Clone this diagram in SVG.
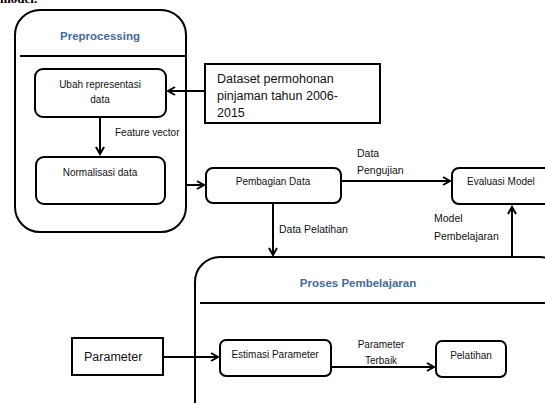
<svg xmlns="http://www.w3.org/2000/svg" width="545" height="403" viewBox="0 0 545 403">
<style>
  .box{fill:#fff;stroke:#000;stroke-width:2}
  .cont{fill:#fff;stroke:#000;stroke-width:2}
  .sep{stroke:#000;stroke-width:2}
  .t{font-family:"Liberation Sans",Arial,sans-serif;font-size:10px;fill:#111}
  .tl{font-family:"Liberation Sans",Arial,sans-serif;font-size:12.5px;fill:#111}
  .tm{font-family:"Liberation Sans",Arial,sans-serif;font-size:10.5px;fill:#111}
  .title{font-family:"Liberation Sans",Arial,sans-serif;font-size:11.5px;font-weight:bold;fill:#44699c}
  .c{stroke:#000;stroke-width:2;fill:none;marker-end:url(#ah)}
</style>
<defs>
  <marker id="ah" markerWidth="10" markerHeight="10" refX="8" refY="5" orient="auto" markerUnits="userSpaceOnUse">
    <path d="M1,1 L8,5 L1,9" fill="none" stroke="#000" stroke-width="2"/>
  </marker>
</defs>
<rect width="545" height="403" fill="#fff"/>
<text x="0" y="3" style="font-family:'Liberation Serif',serif;font-size:13px;font-weight:bold" fill="#000">model.</text>

<g id="preprocessing">
  <rect class="cont" x="15" y="10" width="171" height="222" rx="25"/>
  <line class="sep" x1="20" y1="56" x2="186" y2="56"/>
  <text class="title" x="100" y="40" text-anchor="middle">Preprocessing</text>
</g>
<g id="ubah">
  <rect class="box" x="35" y="69" width="131" height="48" rx="8"/>
  <text class="t" x="100" y="88" text-anchor="middle">Ubah representasi</text>
  <text class="t" x="100" y="103" text-anchor="middle">data</text>
</g>
<g id="normalisasi">
  <rect class="box" x="36" y="157" width="129" height="47" rx="8"/>
  <text class="t" x="100" y="176" text-anchor="middle">Normalisasi data</text>
</g>
<g id="dataset">
  <rect class="box" x="205" y="64" width="175" height="59"/>
  <text class="tl" x="217" y="83">Dataset permohonan</text>
  <text class="tl" x="217" y="100">pinjaman tahun 2006-</text>
  <text class="tl" x="217" y="117">2015</text>
</g>
<g id="pembagian">
  <rect class="box" x="206" y="168" width="135" height="35" rx="7"/>
  <text class="t" x="273" y="185" text-anchor="middle">Pembagian Data</text>
</g>
<g id="evaluasi">
  <rect class="box" x="452" y="168" width="100" height="36" rx="7"/>
  <text class="t" x="467" y="185">Evaluasi Model</text>
</g>
<g id="proses">
  <rect class="cont" x="195" y="257" width="370" height="170" rx="25"/>
  <line class="sep" x1="200" y1="303" x2="545" y2="303"/>
  <text class="title" x="358" y="287" text-anchor="middle">Proses Pembelajaran</text>
</g>
<g id="parameter">
  <rect class="box" x="72" y="338" width="91" height="37"/>
  <text class="tl" x="84" y="361">Parameter</text>
</g>
<g id="estimasi">
  <rect class="box" x="220" y="340" width="111" height="36" rx="6"/>
  <text class="t" x="275" y="358" text-anchor="middle">Estimasi Parameter</text>
</g>
<g id="pelatihan">
  <rect class="box" x="436" y="341" width="70" height="36" rx="6"/>
  <text class="t" x="471" y="359" text-anchor="middle">Pelatihan</text>
</g>

<g id="connectors">
  <line class="c" x1="205" y1="91" x2="168" y2="91"/>
  <line class="c" x1="100" y1="117" x2="100" y2="154"/>
  <text class="t" x="115" y="136">Feature vector</text>
  <line class="c" x1="186" y1="185" x2="204" y2="185"/>
  <line class="c" x1="341" y1="181" x2="450" y2="181"/>
  <text class="tm" x="357" y="157">Data</text>
  <text class="tm" x="357" y="174">Pengujian</text>
  <line class="c" x1="273" y1="203" x2="273" y2="255"/>
  <text class="tm" x="279" y="233">Data Pelatihan</text>
  <line class="c" x1="512" y1="257" x2="512" y2="207"/>
  <text class="tm" x="434" y="222">Model</text>
  <text class="tm" x="434" y="240">Pembelajaran</text>
  <line class="c" x1="163" y1="357" x2="218" y2="357"/>
  <line class="c" x1="331" y1="367" x2="434" y2="367"/>
  <text class="t" x="381" y="348" text-anchor="middle">Parameter</text>
  <text class="t" x="381" y="364" text-anchor="middle">Terbaik</text>
</g>
</svg>
